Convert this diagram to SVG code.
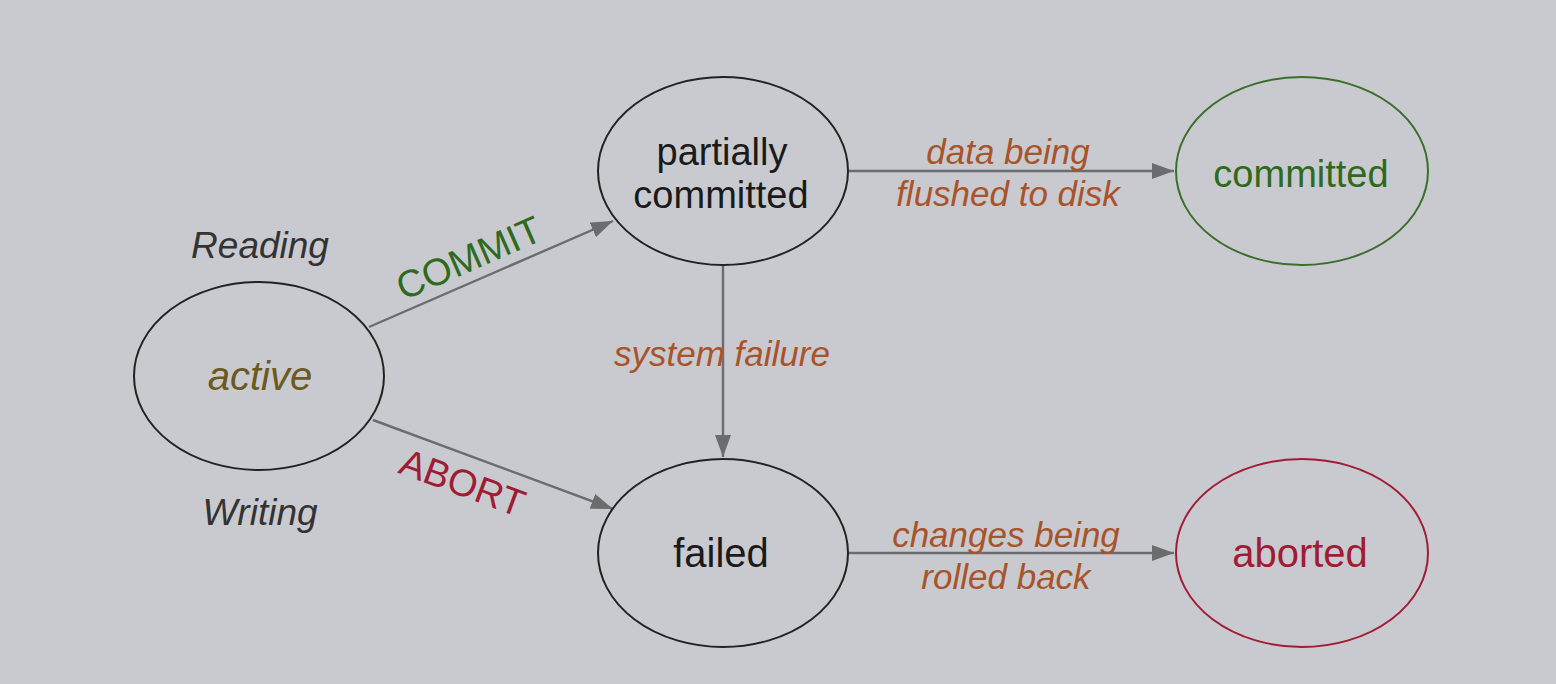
<svg xmlns="http://www.w3.org/2000/svg" width="1556" height="684" viewBox="0 0 1556 684">
<defs>
<style>
.node{fill:none;stroke-width:2}
.t{font-family:"Liberation Sans",Arial,sans-serif;font-size:35px;text-anchor:middle}
.n{font-size:38px}
.i{font-style:italic}
.lbl{fill:#a8532a;font-style:italic}
.edge{stroke:#6b6c70;stroke-width:2.4;fill:none}
</style>
<marker id="ah" viewBox="0 0 22 16" refX="22" refY="8" markerWidth="22" markerHeight="16" markerUnits="userSpaceOnUse" orient="auto">
<path d="M0,0 L22,8 L0,16 Z" fill="#6b6c70"/>
</marker>
</defs>
<rect width="1556" height="684" fill="#c9cacf"/>
<g id="connectors">
<line class="edge" x1="369" y1="327" x2="613" y2="221" marker-end="url(#ah)"/>
<line class="edge" x1="373" y1="420" x2="613" y2="509" marker-end="url(#ah)"/>
<line class="edge" x1="848" y1="171" x2="1174" y2="171" marker-end="url(#ah)"/>
<line class="edge" x1="723" y1="265" x2="723" y2="457" marker-end="url(#ah)"/>
<line class="edge" x1="848" y1="553" x2="1174" y2="553" marker-end="url(#ah)"/>
<text class="t" style="font-size:38px" fill="#2e6a1e" transform="translate(474,270) rotate(-23.6)">COMMIT</text>
<text class="t" style="font-size:38px" fill="#a01c34" transform="translate(458,495) rotate(20.2)">ABORT</text>
<text class="t lbl" x="1008" y="164">data being</text>
<text class="t lbl" x="1008" y="206">flushed to disk</text>
<text class="t lbl" x="722" y="366">system failure</text>
<text class="t lbl" x="1006" y="547">changes being</text>
<text class="t lbl" x="1006" y="589">rolled back</text>
</g>
<g id="active">
<ellipse class="node" cx="259" cy="376" rx="125" ry="94" stroke="#222"/>
<text class="t i" style="font-size:40px" fill="#6b5a1e" x="260" y="390">active</text>
<text class="t i" style="font-size:37px" fill="#333" x="260" y="258">Reading</text>
<text class="t i" style="font-size:37px" fill="#333" x="260" y="525">Writing</text>
</g>
<g id="partially-committed">
<ellipse class="node" cx="723" cy="171" rx="125" ry="94" stroke="#222"/>
<text class="t n" fill="#1a1a1a" x="722" y="165">partially</text>
<text class="t n" fill="#1a1a1a" x="721" y="208">committed</text>
</g>
<g id="committed">
<ellipse class="node" cx="1302" cy="171" rx="126" ry="94" stroke="#3a6e2a"/>
<text class="t n" fill="#2e6a1e" x="1301" y="187">committed</text>
</g>
<g id="failed">
<ellipse class="node" cx="723" cy="553" rx="125" ry="94" stroke="#222"/>
<text class="t n" style="font-size:40px" fill="#1a1a1a" x="721" y="567">failed</text>
</g>
<g id="aborted">
<ellipse class="node" cx="1302" cy="553" rx="126" ry="94" stroke="#a01c34"/>
<text class="t n" style="font-size:40px" fill="#a01c34" x="1300" y="567">aborted</text>
</g>
</svg>
